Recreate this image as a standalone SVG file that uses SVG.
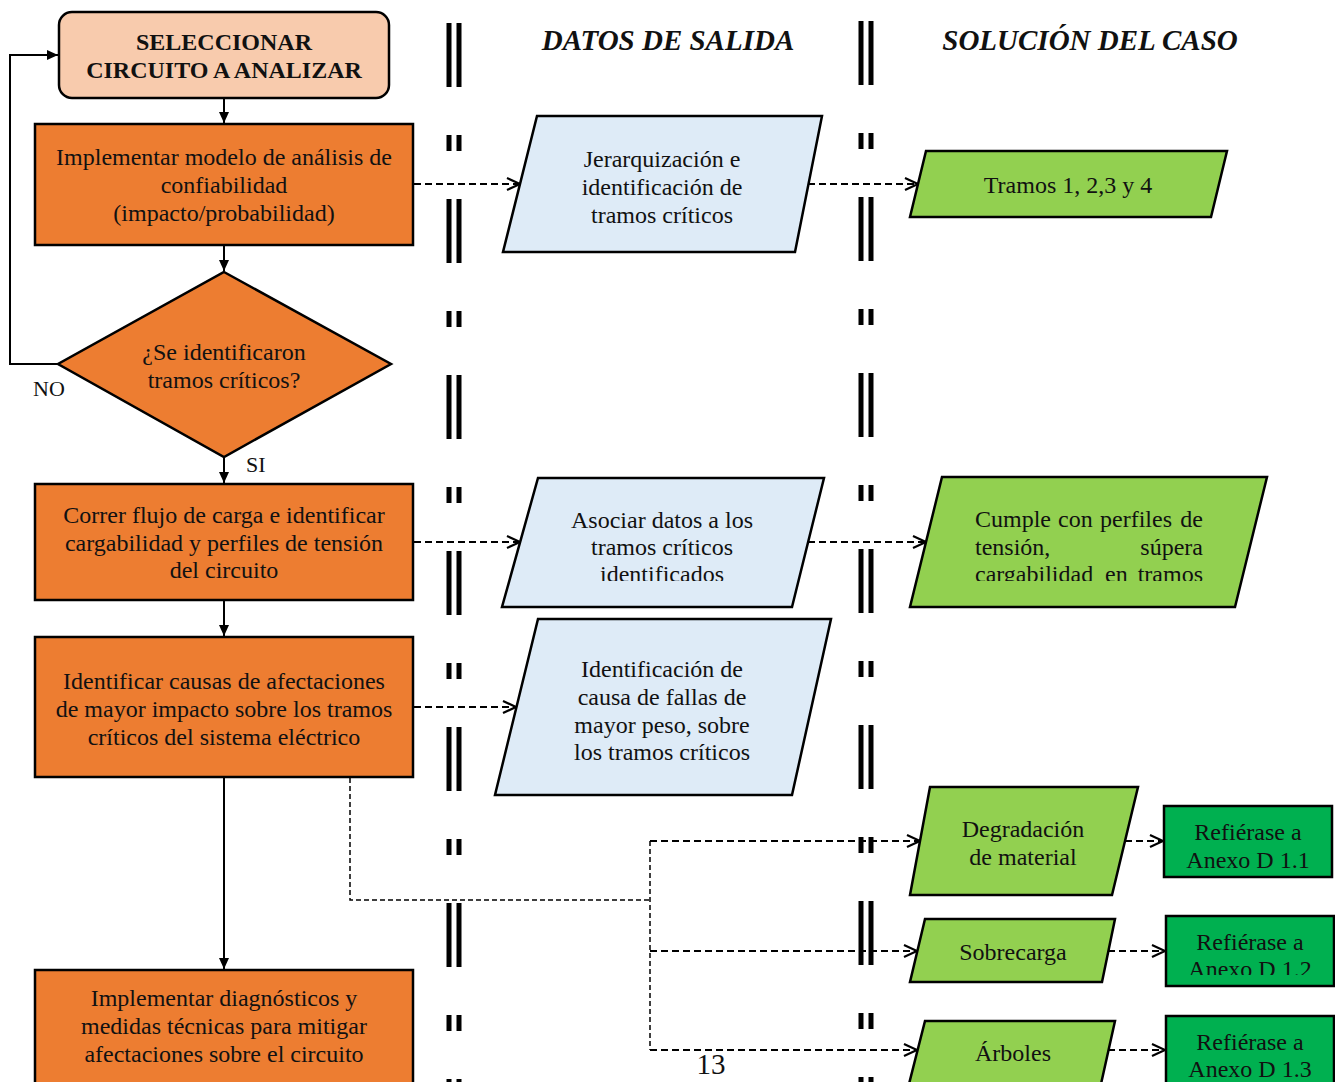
<svg xmlns="http://www.w3.org/2000/svg" width="1335" height="1082" viewBox="0 0 1335 1082">
<style>
text{font-family:"Liberation Serif","Times New Roman",serif;font-size:24px;fill:#111;text-anchor:middle}
.b{font-weight:bold}
.h{font-weight:bold;font-style:italic;font-size:29px}
.l{text-anchor:start}
.e{text-anchor:end}
.or{fill:#ED7D31;stroke:#000;stroke-width:2.5}
.pk{fill:#F8CBAD;stroke:#000;stroke-width:2.5}
.lb{fill:#DEEBF7;stroke:#000;stroke-width:2.5}
.lg{fill:#92D050;stroke:#000;stroke-width:2.5}
.dg{fill:#00B050;stroke:#000;stroke-width:2.5}
.sol{fill:none;stroke:#000;stroke-width:2}
.dash{fill:none;stroke:#000;stroke-width:2;stroke-dasharray:7 4}
.thin{fill:none;stroke:#000;stroke-width:1.5;stroke-dasharray:5 3}
.sep{stroke:#000;stroke-width:5;stroke-dasharray:64 48 16 48}
</style>
<defs>
<marker id="ah" markerUnits="userSpaceOnUse" markerWidth="12" markerHeight="12" refX="11" refY="6" orient="auto">
<path d="M0,1 L11,6 L0,11 Z" fill="#000"/>
</marker>
<marker id="oh" markerUnits="userSpaceOnUse" markerWidth="16" markerHeight="14" refX="14" refY="7" orient="auto">
<path d="M1,1 L14,7 L1,13" fill="none" stroke="#000" stroke-width="2.2"/>
</marker>
<clipPath id="cB"><rect x="480" y="470" width="360" height="111"/></clipPath>
<clipPath id="cE"><rect x="900" y="470" width="380" height="111"/></clipPath>
<clipPath id="cJ"><rect x="1160" y="910" width="175" height="65"/></clipPath>
</defs>

<g id="separators">
<line class="sep" x1="449" y1="23" x2="449" y2="1082"/>
<line class="sep" x1="459" y1="23" x2="459" y2="1082"/>
<line class="sep" x1="861" y1="21" x2="861" y2="1082"/>
<line class="sep" x1="871" y1="21" x2="871" y2="1082"/>
</g>

<g id="headers">
<text class="h" x="668" y="50">DATOS DE SALIDA</text>
<text class="h" x="1090" y="50">SOLUCIÓN DEL CASO</text>
</g>

<g id="connectors">
<line class="sol" x1="224" y1="99" x2="224" y2="123" marker-end="url(#ah)"/>
<line class="sol" x1="224" y1="246" x2="224" y2="271" marker-end="url(#ah)"/>
<line class="sol" x1="224" y1="457" x2="224" y2="483" marker-end="url(#ah)"/>
<line class="sol" x1="224" y1="601" x2="224" y2="636" marker-end="url(#ah)"/>
<line class="sol" x1="224" y1="778" x2="224" y2="969" marker-end="url(#ah)"/>
<polyline class="sol" points="58,364 10,364 10,55 58,55" marker-end="url(#ah)"/>
<line class="dash" x1="414" y1="184" x2="520" y2="184" marker-end="url(#oh)"/>
<line class="dash" x1="808" y1="184" x2="918" y2="184" marker-end="url(#oh)"/>
<line class="dash" x1="414" y1="542" x2="520" y2="542" marker-end="url(#oh)"/>
<line class="dash" x1="808" y1="542" x2="926" y2="542" marker-end="url(#oh)"/>
<line class="dash" x1="414" y1="707" x2="516" y2="707" marker-end="url(#oh)"/>
<polyline class="thin" points="350,778 350,900 650,900"/>
<line class="thin" x1="650" y1="841" x2="650" y2="1050"/>
<line class="dash" x1="650" y1="841" x2="920" y2="841" marker-end="url(#oh)"/>
<line class="dash" x1="650" y1="951" x2="917" y2="951" marker-end="url(#oh)"/>
<line class="dash" x1="650" y1="1050" x2="917" y2="1050" marker-end="url(#oh)"/>
<line class="dash" x1="1125" y1="841" x2="1163" y2="841" marker-end="url(#oh)"/>
<line class="dash" x1="1108" y1="951" x2="1165" y2="951" marker-end="url(#oh)"/>
<line class="dash" x1="1108" y1="1050" x2="1165" y2="1050" marker-end="url(#oh)"/>
</g>

<g id="labels">
<text class="l" x="33" y="396" style="font-size:22px">NO</text>
<text class="l" x="246" y="472" style="font-size:22px">SI</text>
</g>

<g id="n-select">
<rect class="pk" x="59" y="12" width="330" height="86" rx="13"/>
<text class="b" x="224" y="50">SELECCIONAR</text>
<text class="b" x="224" y="78">CIRCUITO A ANALIZAR</text>
</g>

<g id="n-modelo">
<rect class="or" x="35" y="124" width="378" height="121"/>
<text x="224" y="165">Implementar modelo de análisis de</text>
<text x="224" y="193">confiabilidad</text>
<text x="224" y="221">(impacto/probabilidad)</text>
</g>

<g id="n-decision">
<polygon class="or" points="224,272 391,364 224,457 58,364"/>
<text x="224" y="360">¿Se identificaron</text>
<text x="224" y="388">tramos críticos?</text>
</g>

<g id="n-flujo">
<rect class="or" x="35" y="484" width="378" height="116"/>
<text x="224" y="523">Correr flujo de carga e identificar</text>
<text x="224" y="551">cargabilidad y perfiles de tensión</text>
<text x="224" y="578">del circuito</text>
</g>

<g id="n-causas">
<rect class="or" x="35" y="637" width="378" height="140"/>
<text x="224" y="689">Identificar causas de afectaciones</text>
<text x="224" y="717">de mayor impacto sobre los tramos</text>
<text x="224" y="745">críticos del sistema eléctrico</text>
</g>

<g id="n-diagnostico">
<rect class="or" x="35" y="970" width="378" height="115"/>
<text x="224" y="1006">Implementar diagnósticos y</text>
<text x="224" y="1034">medidas técnicas para mitigar</text>
<text x="224" y="1062">afectaciones sobre el circuito</text>
</g>

<g id="n-jerarquizacion">
<polygon class="lb" points="537,116 822,116 795,252 503,252"/>
<text x="662" y="167">Jerarquización e</text>
<text x="662" y="195">identificación de</text>
<text x="662" y="223">tramos críticos</text>
</g>

<g id="n-asociar">
<polygon class="lb" points="538,478 824,478 792,607 502,607"/>
<g clip-path="url(#cB)">
<text x="662" y="528">Asociar datos a los</text>
<text x="662" y="555">tramos críticos</text>
<text x="662" y="582">identificados</text>
</g>
</g>

<g id="n-identificacion">
<polygon class="lb" points="538,619 831,619 792,795 495,795"/>
<text x="662" y="677">Identificación de</text>
<text x="662" y="705">causa de fallas de</text>
<text x="662" y="733">mayor peso, sobre</text>
<text x="662" y="760">los tramos críticos</text>
</g>

<g id="n-tramos">
<polygon class="lg" points="926,151 1227,151 1211,217 910,217"/>
<text x="1068" y="193">Tramos 1, 2,3 y 4</text>
</g>

<g id="n-cumple">
<polygon class="lg" points="942,477 1267,477 1235,607 910,607"/>
<g clip-path="url(#cE)">
<text class="l" x="975" y="527">Cumple</text>
<text class="l" x="1058" y="527">con</text>
<text class="l" x="1100" y="527">perfiles</text>
<text class="e" x="1203" y="527">de</text>
<text class="l" x="975" y="555">tensión,</text>
<text class="e" x="1203" y="555">súpera</text>
<text class="l" x="975" y="582">cargabilidad</text>
<text class="l" x="1105" y="582">en</text>
<text class="e" x="1203" y="582">tramos</text>
</g>
</g>

<g id="n-degradacion">
<polygon class="lg" points="930,787 1138,787 1112,895 910,895"/>
<text x="1023" y="837">Degradación</text>
<text x="1023" y="865">de material</text>
</g>

<g id="n-sobrecarga">
<polygon class="lg" points="925,919 1115,919 1102,982 910,982"/>
<text x="1013" y="960">Sobrecarga</text>
</g>

<g id="n-arboles">
<polygon class="lg" points="925,1021 1115,1021 1101,1084 909,1084"/>
<text x="1013" y="1061">Árboles</text>
</g>

<g id="n-anexo11">
<rect class="dg" x="1164" y="806" width="168" height="71"/>
<text x="1248" y="840">Refiérase a</text>
<text x="1248" y="868">Anexo D 1.1</text>
</g>

<g id="n-anexo12">
<rect class="dg" x="1166" y="916" width="168" height="70"/>
<g clip-path="url(#cJ)">
<text x="1250" y="950">Refiérase a</text>
<text x="1250" y="977">Anexo D 1.2</text>
</g>
</g>

<g id="n-anexo13">
<rect class="dg" x="1166" y="1016" width="168" height="70"/>
<text x="1250" y="1050">Refiérase a</text>
<text x="1250" y="1077">Anexo D 1.3</text>
</g>

<text x="711" y="1074" style="font-size:29px">13</text>
</svg>
